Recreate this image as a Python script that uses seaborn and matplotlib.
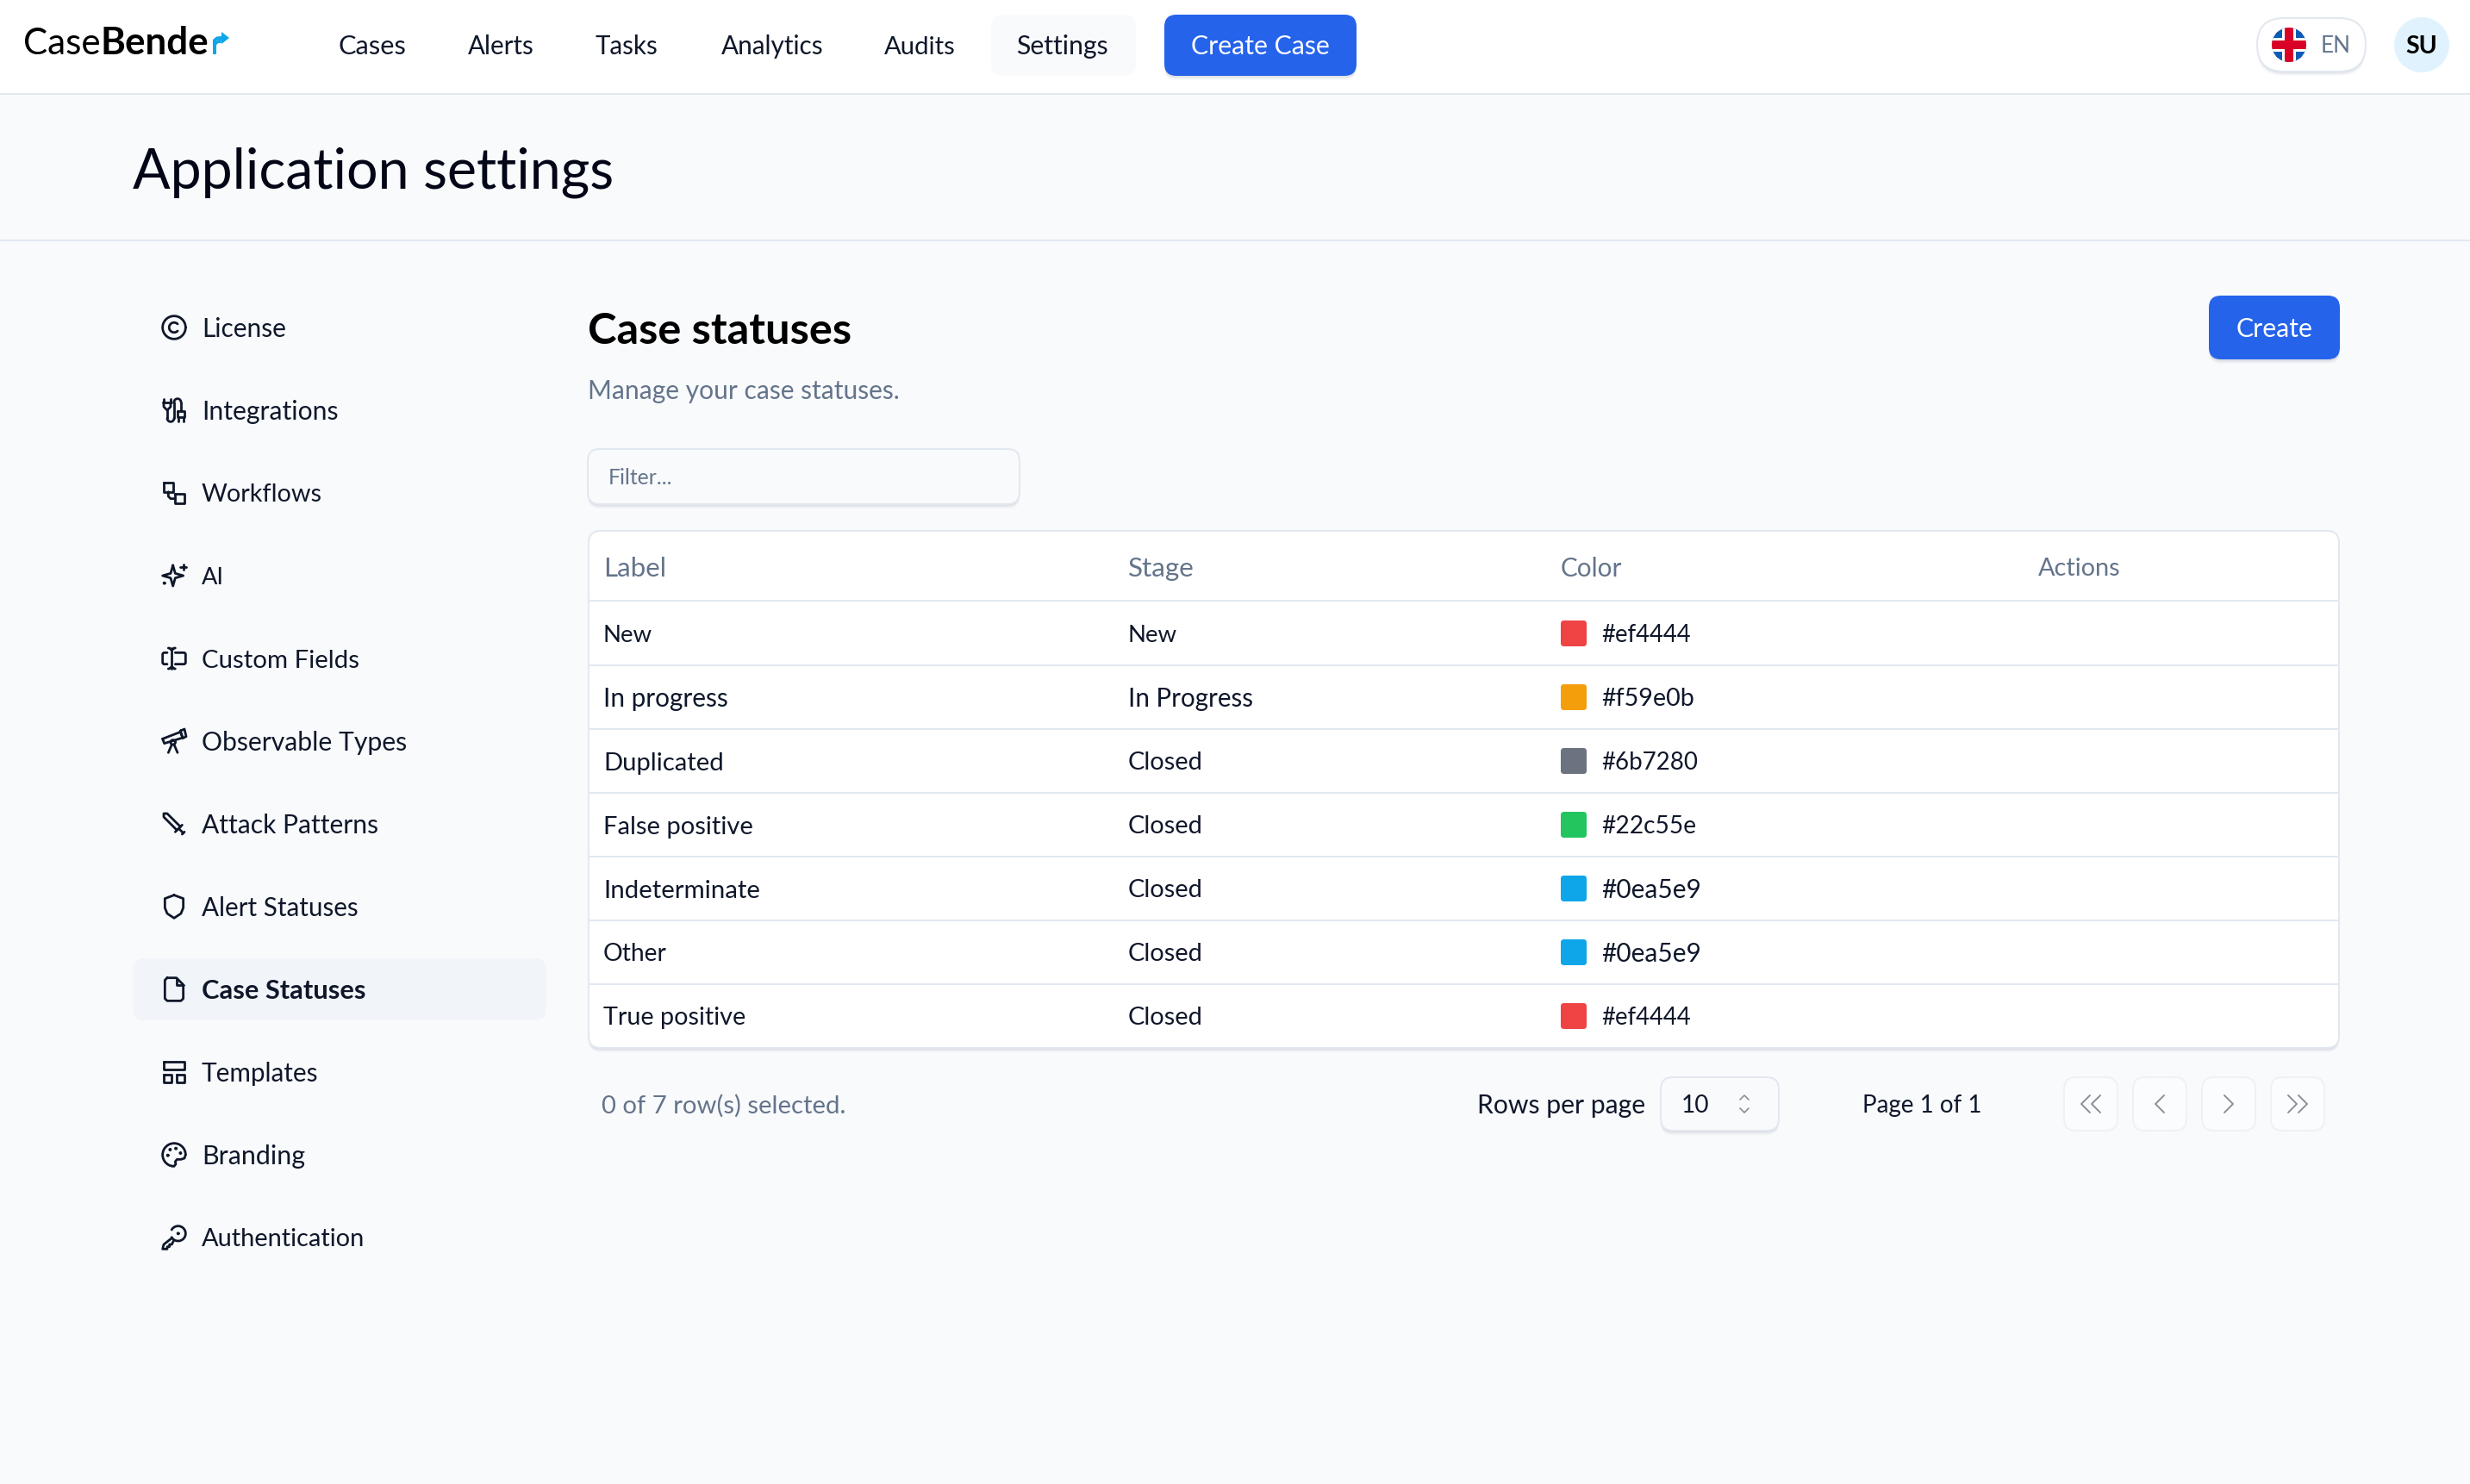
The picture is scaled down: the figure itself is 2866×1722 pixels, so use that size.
import numpy as np
import pandas as pd
import matplotlib
matplotlib.use("Agg")
import matplotlib.pyplot as plt
from matplotlib.patches import FancyBboxPatch, Circle, Polygon, Rectangle
from matplotlib.path import Path
import seaborn as sns

# ---- content ----
nav_items = ["Cases", "Alerts", "Tasks", "Analytics", "Audits", "Settings"]
side_items = ["License", "Integrations", "Workflows", "AI", "Custom Fields", "Observable Types",
              "Attack Patterns", "Alert Statuses", "Case Statuses", "Templates", "Branding", "Authentication"]
columns = ["Label", "Stage", "Color", "Actions"]
labels = ["New", "In progress", "Duplicated", "False positive", "Indeterminate", "Other", "True positive"]
stages = ["New", "In Progress", "Closed", "Closed", "Closed", "Closed", "Closed"]
colors = ["#ef4444", "#f59e0b", "#6b7280", "#22c55e", "#0ea5e9", "#0ea5e9", "#ef4444"]

FONT = "Lato"
INK = "#0f172a"
MUTED = "#64748b"
BORDER = "#e2e8f0"
BLUE = "#2563eb"
BG = "#f8fafc"
PX2 = 1.44  # 2 image pixels in points

sns.set_theme(style="white")
plt.rcParams["font.family"] = [FONT, "DejaVu Sans"]

fig = plt.figure(figsize=(28.66, 17.22), dpi=100, facecolor=BG)
ax = fig.add_axes([0, 0, 1, 1])
ax.set_xlim(0, 2866)
ax.set_ylim(1722, 0)
ax.axis("off")
fig.canvas.draw()
renderer = fig.canvas.get_renderer()


def T(x, y, s, px=28, w=None, color=INK, ha="left", weight="normal", z=10, base=None):
    """Text centred on cap height at y (or on baseline base); w = target width in pixels."""
    t = ax.text(x, y, s, fontsize=px * 0.72, color=color, ha=ha, va="baseline",
                fontweight=weight, zorder=z)
    if w is not None:
        cur = t.get_window_extent(renderer).width
        t.set_fontsize(t.get_fontsize() * w / cur)
    fpx = t.get_fontsize() / 0.72
    t.set_y(base if base is not None else y + 0.36 * fpx)
    return t


def R(x0, y0, x1, y1, r=0, fc="white", ec="none", lw=0, z=1):
    p = FancyBboxPatch((x0, y0), x1 - x0, y1 - y0, boxstyle=f"round,pad=0,rounding_size={r}",
                       fc=fc, ec=ec, lw=lw, zorder=z)
    ax.add_patch(p)
    return p


def shadow(x0, y0, x1, y1, r, z=0.5):
    for d, a in ((5, 0.035), (3, 0.05), (1.5, 0.06)):
        R(x0, y0 + d, x1, y1 + d, r, fc=(0.1, 0.15, 0.3, a), z=z)


# ---- header ----
R(-5, -5, 2871, 108, 0, fc="white", z=1)
ax.axhline(108.5, color=BORDER, lw=PX2, zorder=2)
ax.axhline(278.5, color=BORDER, lw=PX2, zorder=2)

T(27, 49, "Case", w=90, color="black", base=63)
T(117, 49, "Bende", w=126, color="black", weight="bold", base=63)
T(245, 49, "r", w=12, color="#0ea5e9", weight="bold", base=63)
ax.plot([249, 249, 252, 258], [52, 47, 44.5, 44], color="#0ea5e9", lw=3, zorder=11)
ax.add_patch(Polygon([[257, 37], [266, 44], [257, 51]], fc="#0ea5e9", ec="none", zorder=11))

R(1150, 17, 1318, 88, 14, fc=BG, z=2)
nav_x = [393, 543, 691, 837, 1026, 1179]
nav_w = [79, 77, 73, 119, 83, 107]
for x, s, w in zip(nav_x, nav_items, nav_w):
    T(x, 52, s, w=w)

shadow(1351, 17, 1574, 88, 14, z=1.5)
R(1351, 17, 1574, 88, 14, fc=BLUE, z=2)
T(1462, 52, "Create Case", w=161, color="white", ha="center")

shadow(2619, 21, 2745, 83, 31, z=1.5)
R(2619, 21, 2745, 83, 31, fc="white", ec=BORDER, lw=PX2, z=2)
# flag
clip = Circle((2656, 52), 20, transform=ax.transData)
patches = [Rectangle((2636, 32), 40, 40, fc="#0a5bb5", ec="none", zorder=3)]
lines = []
for a, b, col, lw in [((2636, 32), (2676, 72), "white", 8), ((2636, 72), (2676, 32), "white", 8),
                      ((2636, 32), (2676, 72), "#d80027", 2), ((2636, 72), (2676, 32), "#d80027", 2)]:
    lines += ax.plot([a[0], b[0]], [a[1], b[1]], color=col, lw=lw, zorder=3, solid_capstyle="butt")
patches.append(Rectangle((2636, 44), 40, 16, fc="white", ec="none", zorder=4))
patches.append(Rectangle((2648, 32), 16, 40, fc="white", ec="none", zorder=4))
patches.append(Rectangle((2636, 47), 40, 10, fc="#d80027", ec="none", zorder=4))
patches.append(Rectangle((2651, 32), 10, 40, fc="#d80027", ec="none", zorder=4))
for p in patches:
    ax.add_patch(p)
    p.set_clip_path(clip)
for p in lines:
    p.set_clip_path(clip)
T(2693, 52, "EN", w=35, color=MUTED)
ax.add_patch(Circle((2810, 52), 32, fc="#e0f2fe", ec="none", zorder=2))
T(2810, 52, "SU", w=37, color="black", ha="center", weight="bold")

T(154, 195, "Application settings", w=560, color="#020617")

# ---- sidebar ----
R(154, 1112, 634, 1184, 14, fc="#f1f5f9", z=1)
side_y = [380 + 96 * i for i in range(12)]
side_w = [98, 159, 140, 26, 183, 239, 205, 182, 190, 136, 120, 190]
for s, y, w in zip(side_items, side_y, side_w):
    T(234, y, s, w=w, weight="bold" if s == "Case Statuses" else "normal")


def icon(name, yc):
    k = 32 / 24
    X = lambda u: 202 + (np.asarray(u, float) - 12) * k
    Y = lambda v: yc + (np.asarray(v, float) - 12) * k
    lw = 2.0

    def L(*pts, close=False):
        pts = list(pts) + ([pts[0]] if close else [])
        a = np.array(pts, float)
        ax.plot(X(a[:, 0]), Y(a[:, 1]), color=INK, lw=lw, zorder=6,
                solid_capstyle="round", solid_joinstyle="round")

    def A(cx, cy, r, t0=0, t1=360):
        t = np.radians(np.linspace(t0, t1, 60))
        ax.plot(X(cx + r * np.cos(t)), Y(cy + r * np.sin(t)), color=INK, lw=lw, zorder=6,
                solid_capstyle="round")

    if name == "License":
        A(12, 12, 10)
        A(12, 12, 4.3, 45, 315)
    elif name == "Integrations":
        L((3, 2), (3, 5))
        L((9, 2), (9, 5))
        L((2, 5), (10, 5))
        L((3, 5), (3, 9), (6, 12), (9, 9), (9, 5))
        L((6, 12), (6, 19))
        A(9, 19, 3, 0, 180)
        L((12, 19), (12, 5))
        A(15, 5, 3, 180, 360)
        L((18, 5), (18, 13))
        L((15, 13), (21, 13), (21, 18), (15, 18), close=True)
        L((16, 18), (16, 22))
        L((20, 18), (20, 22))
    elif name == "Workflows":
        L((3, 3), (11, 3), (11, 11), (3, 11), close=True)
        L((13, 13), (21, 13), (21, 21), (13, 21), close=True)
        L((7, 11), (7, 15), (9, 17), (13, 17))
    elif name == "AI":
        L((11, 3), (13, 10), (20, 12), (13, 14), (11, 21), (9, 14), (2, 12), (9, 10), close=True)
        L((20, 2), (20, 7))
        L((17.5, 4.5), (22.5, 4.5))
        A(3.5, 18.5, 0.4)
    elif name == "Custom Fields":
        L((10, 3), (10, 21))
        L((7, 3), (8, 3), (10, 5), (12, 3), (13, 3))
        L((7, 21), (8, 21), (10, 19), (12, 21), (13, 21))
        L((13, 7), (21, 7), (22, 8), (22, 16), (21, 17), (13, 17))
        L((6, 7), (3, 7), (2, 8), (2, 16), (3, 17), (6, 17))
    elif name == "Observable Types":
        L((2, 10), (17.5, 4), (19.5, 9), (3.5, 14), close=True)
        L((17.5, 3), (21, 1.5), (22.5, 8), (19.5, 9.5), close=True)
        A(11, 13, 2)
        L((10, 15), (7, 22))
        L((12, 15), (15, 22))
    elif name == "Attack Patterns":
        L((14.5, 17.5), (3, 6), (3, 3), (6, 3), (17.5, 14.5))
        L((13, 19), (19, 13))
        L((16, 16), (20, 20))
        L((19, 21), (21, 19))
    elif name == "Alert Statuses":
        L((12, 2), (20, 5), (20, 13), (18, 18), (12, 22), (6, 18), (4, 13), (4, 5), close=True)
    elif name == "Case Statuses":
        L((6, 2), (14, 2), (20, 8), (20, 20), (18, 22), (6, 22), (4, 20), (4, 4), close=True)
        L((14, 2), (14, 8), (20, 8))
    elif name == "Templates":
        L((3, 3), (21, 3), (21, 10), (3, 10), close=True)
        L((3, 14), (10, 14), (10, 21), (3, 21), close=True)
        L((14, 14), (21, 14), (21, 21), (14, 21), close=True)
    elif name == "Branding":
        A(12, 12, 10, 100, 360)
        L((22, 12), (21, 15), (18, 16), (14.5, 16), (13, 18), (13.5, 20), (12, 22), (10.3, 21.8))
        for a, b in [(13.5, 6.5), (17.5, 10.5), (8.5, 7.5), (6.5, 12.5)]:
            A(a, b, 0.4)
    elif name == "Authentication":
        A(15.5, 8.5, 6.5, -150, 150)
        A(15.5, 8.5, 0.4)
        L((10, 12.5), (3, 18), (2, 22), (6, 22), (6, 20), (8, 20), (8, 18), (10, 18), (11.5, 15))


for s, y in zip(side_items, side_y):
    icon(s, y)

# ---- section head ----
T(682, 381, "Case statuses", w=305, weight="bold", color="black")
T(682, 452, "Manage your case statuses.", w=362, color=MUTED)
shadow(2563, 343, 2715, 417, 14, z=1.5)
R(2563, 343, 2715, 417, 14, fc=BLUE, z=2)
T(2639, 380, "Create", w=89, color="white", ha="center")

shadow(682, 521, 1183, 585, 14, z=1.5)
R(682, 521, 1183, 585, 14, fc=BG, ec=BORDER, lw=PX2, z=2)
T(706, 553, "Filter...", w=74, color=MUTED)

# ---- table ----
col_x = [700, 1309, 1811, 2365]
row_y = [735 + 74 * i for i in range(7)]
shadow(683, 616, 2714, 1216, 14, z=1.5)
R(683, 616, 2714, 1216, 14, fc="white", ec=BORDER, lw=PX2, z=2)
col_w = [73, 77, 71, 96]
for x, s, w in zip(col_x, columns, col_w):
    T(x, 658, s, w=w, color=MUTED)
ax.plot([684, 2713], [697, 697], color=BORDER, lw=PX2, zorder=3)
for y in row_y[:-1]:
    ax.plot([684, 2713], [y + 37, y + 37], color=BORDER, lw=PX2, zorder=3)

label_w = [57, 145, 140, 174, 182, 74, 165]
stage_w = [57, 145, 87, 87, 87, 87, 87]
hex_w = [104, 108, 112, 110, 116, 116, 104]
for y, a, b, c, wa, wb, wc in zip(row_y, labels, stages, colors, label_w, stage_w, hex_w):
    T(col_x[0], y, a, w=wa)
    T(col_x[1], y, b, w=wb)
    T(1858, y, c, w=wc)

# rounded-square swatches through seaborn
k = 0.25
rounded = Path(
    [(-1 + k, -1), (1 - k, -1), (1, -1), (1, -1 + k), (1, 1 - k), (1, 1), (1 - k, 1), (-1 + k, 1), (-1, 1),
     (-1, 1 - k), (-1, -1 + k), (-1, -1), (-1 + k, -1)],
    [Path.MOVETO, Path.LINETO, Path.CURVE3, Path.CURVE3, Path.LINETO, Path.CURVE3, Path.CURVE3, Path.LINETO,
     Path.CURVE3, Path.CURVE3, Path.LINETO, Path.CURVE3, Path.CURVE3],
)
df = pd.DataFrame({"x": [1826] * len(row_y), "y": row_y, "label": labels, "color": colors})
sns.scatterplot(data=df, x="x", y="y", hue="label", palette=dict(zip(labels, colors)), marker=rounded,
                s=(30 * 0.72) ** 2, linewidth=0, legend=False, ax=ax, zorder=8)
ax.set_xlim(0, 2866)
ax.set_ylim(1722, 0)
ax.axis("off")

# ---- footer ----
T(698, 1281, "0 of 7 row(s) selected.", w=283, color=MUTED)
T(1714, 1281, "Rows per page", w=195)
shadow(1927, 1250, 2064, 1312, 14, z=1.5)
R(1927, 1250, 2064, 1312, 14, fc=BG, ec=BORDER, lw=PX2, z=2)
T(1951, 1281, "10", px=28)
ax.plot([2019, 2024, 2029], [1276, 1271, 1276], color="#8b8f98", lw=1.2, zorder=5)
ax.plot([2019, 2024, 2029], [1286, 1291, 1286], color="#8b8f98", lw=1.2, zorder=5)
T(2161, 1281, "Page 1 of 1", w=138)

btn_x = [2395, 2475, 2555, 2635]
btn_dirs = [(-1, 2), (-1, 1), (1, 1), (1, 2)]
for x, (d, n) in zip(btn_x, btn_dirs):
    R(x, 1250, x + 62, 1312, 14, fc="#fbfcfe", ec="#eef2f7", lw=PX2, z=2)
    cx = x + 31
    offs = [0] if n == 1 else [-6, 6]
    for o in offs:
        ax.plot([cx + o - d * 5, cx + o + d * 5, cx + o - d * 5], [1271, 1281, 1291],
                color="#8b8f98", lw=1.4, zorder=5)

fig.savefig("out.png", dpi=100, facecolor=BG)
